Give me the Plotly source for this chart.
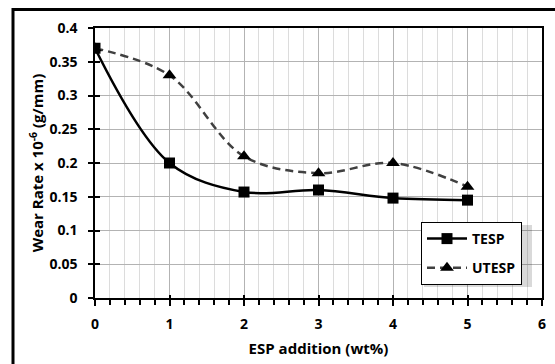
import plotly.graph_objects as go

esp = [0, 1, 2, 3, 4, 5]
tesp = [0.37, 0.20, 0.157, 0.160, 0.148, 0.145]
utesp = [0.37, 0.33, 0.21, 0.185, 0.20, 0.165]

FONT = "Open Sans"
L, R, T, B = 95, 13, 28, 66
W, H = 555, 364
pw, ph = W - L - R, H - T - B

def px_x(p):
    return (p - L) / pw

def px_y(p):
    return (H - B - p) / ph

fig = go.Figure()
fig.add_trace(go.Scatter(
    x=esp, y=tesp, name="TESP", mode="lines+markers", legendgroup="a",
    line=dict(color="black", width=2.5, shape="spline", smoothing=1),
    marker=dict(symbol="square", size=11, color="black"),
))
fig.add_trace(go.Scatter(
    x=esp, y=utesp, name="UTESP", mode="lines+markers", legendgroup="b",
    line=dict(color="#404040", width=2.5, dash="8px,5px", shape="spline", smoothing=1),
    marker=dict(symbol="triangle-up", size=12, color="black"),
))
# overlay axes only for the inward half of the crossing ticks
fig.add_trace(go.Scatter(x=[None], y=[None], xaxis="x2", yaxis="y2",
                         showlegend=False, hoverinfo="skip"))

# outer chart border
fig.add_shape(type="rect", xref="paper", yref="paper",
              x0=px_x(13), x1=px_x(575), y0=px_y(380), y1=px_y(9.5),
              line=dict(color="black", width=3), layer="above")
# legend shadow
fig.add_shape(type="rect", xref="paper", yref="paper",
              x0=px_x(424), x1=px_x(532), y0=px_y(287), y1=px_y(225),
              line=dict(width=0), fillcolor="rgba(0,0,0,0.15)", layer="above")

tickfont = dict(family=FONT, size=14, weight="bold", color="black")
fig.update_layout(
    width=W, height=H,
    margin=dict(l=L, r=R, t=T, b=B, autoexpand=False),
    paper_bgcolor="white", plot_bgcolor="white",
    font=dict(family=FONT, size=13, color="black", weight="bold"),
    showlegend=True,
    legend=dict(x=px_x(421), y=px_y(222), xanchor="left", yanchor="top",
                bgcolor="white", bordercolor="black", borderwidth=1,
                font=dict(family=FONT, size=14, color="black", weight="bold"),
                tracegroupgap=8, itemwidth=40),
    xaxis=dict(range=[0, 6], dtick=1, tick0=0, automargin=False,
               showline=True, linecolor="black", linewidth=1.5, mirror=True,
               ticks="outside", ticklen=6, tickcolor="black", tickwidth=1.5,
               showgrid=True, gridcolor="#b3b3b3", gridwidth=1,
               zeroline=False, ticklabelstandoff=6,
               minor=dict(dtick=0.2, ticks="outside", ticklen=5, tickcolor="black",
                          showgrid=True, gridcolor="#dcdcdc", gridwidth=1),
               title=dict(text="ESP addition (wt%)", standoff=12,
                          font=dict(family=FONT, size=15, weight="bold")),
               tickfont=tickfont),
    yaxis=dict(range=[0, 0.4], dtick=0.05, tick0=0, automargin=False,
               showline=True, linecolor="black", linewidth=1.5, mirror=True,
               ticks="outside", ticklen=5, tickcolor="black", tickwidth=1.5,
               showgrid=True, gridcolor="#b3b3b3", gridwidth=1,
               zeroline=False, ticklabelstandoff=8,
               title=dict(text="Wear Rate x 10<sup>-6</sup> (g/mm)", standoff=2,
                          font=dict(family=FONT, size=15, weight="bold")),
               tickfont=tickfont),
    xaxis2=dict(range=[0, 6], dtick=1, tick0=0, overlaying="x", anchor="y2",
                ticks="inside", ticklen=3, tickcolor="black", tickwidth=1.5,
                showticklabels=False, showgrid=False, zeroline=False, showline=False),
    yaxis2=dict(range=[0, 0.4], dtick=0.05, tick0=0, overlaying="y", anchor="x2",
                ticks="inside", ticklen=5, tickcolor="black", tickwidth=1.5,
                showticklabels=False, showgrid=False, zeroline=False, showline=False),
)

fig.write_html("out.html")
